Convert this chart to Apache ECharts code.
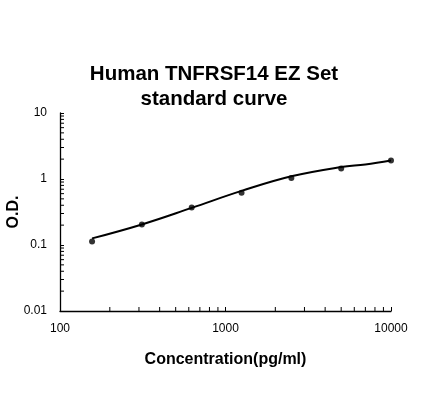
<!DOCTYPE html>
<html>
<head>
<meta charset="utf-8" />
<title>Human TNFRSF14 EZ Set standard curve</title>
<script src="https://cdn.jsdelivr.net/npm/echarts@6/dist/echarts.min.js"></script>
<style>
  html, body { margin: 0; padding: 0; background: #fff; }
  #chart { width: 421px; height: 419px; }
</style>
</head>
<body>
<div id="chart"></div>
<script>
// standard points
var conc = [156.25, 312.5, 625, 1250, 2500, 5000, 10000];
var od = [0.113, 0.204, 0.37, 0.62, 1.04, 1.44, 1.9];

// fitted curve
var fitConc = [156.25, 312.5, 625, 1250, 2500, 5000, 7000, 10000];
var fitOd = [0.126, 0.205, 0.365, 0.66, 1.1, 1.52, 1.66, 1.9];

// minor tick values (log axes)
var xMinor = [200, 300, 400, 500, 600, 700, 800, 900,
  2000, 3000, 4000, 5000, 6000, 7000, 8000, 9000];
var yMinor = [0.02, 0.03, 0.04, 0.05, 0.06, 0.07, 0.08, 0.09,
  0.2, 0.3, 0.4, 0.5, 0.6, 0.7, 0.8, 0.9,
  2, 3, 4, 5, 6, 7, 8, 9];

var xMin = 100, xMax = 10000, yMin = 0.01, yMax = 10;

var chart = echarts.init(document.getElementById('chart'));

function pairs(xs, ys) {
  return xs.map(function (x, i) { return [x, ys[i]]; });
}

function plain(v) {
  return String(+(+v).toPrecision(3));
}

var tickLen = 4;
var minorTicks = xMinor.map(function (v) { return [v, yMin, 'x']; })
  .concat(yMinor.map(function (v) { return [xMin, v, 'y']; }));

chart.setOption({
  animation: false,
  textStyle: { fontFamily: 'Liberation Sans, Arial, sans-serif' },
  title: {
    text: 'Human TNFRSF14 EZ Set\nstandard curve',
    left: 209,
    top: 57,
    textAlign: 'center',
    textStyle: {
      fontSize: 20.5,
      fontWeight: 'bold',
      color: '#000',
      lineHeight: 25,
      fontFamily: 'Liberation Sans, Arial, sans-serif'
    }
  },
  grid: {
    left: 60, right: 30, top: 113, bottom: 108,
    containLabel: false,
    outerBoundsMode: 'none'
  },
  xAxis: {
    type: 'log',
    logBase: 10,
    min: xMin,
    max: xMax,
    name: 'Concentration(pg/ml)',
    nameLocation: 'middle',
    nameGap: 41,
    nameMoveOverlap: false,
    nameTextStyle: { fontSize: 16, fontWeight: 'bold', color: '#000' },
    axisLine: { lineStyle: { color: '#000', width: 1.3 } },
    axisTick: { inside: true, length: tickLen, lineStyle: { color: '#000' } },
    axisLabel: { color: '#000', fontSize: 12, margin: 12, formatter: plain },
    splitLine: { show: false },
    minorTick: { show: false }
  },
  yAxis: {
    type: 'log',
    logBase: 10,
    min: yMin,
    max: yMax,
    name: 'O.D.',
    nameLocation: 'middle',
    nameGap: 38,
    nameMoveOverlap: false,
    nameRotate: 90,
    nameTextStyle: { fontSize: 16, fontWeight: 'bold', color: '#000' },
    axisLine: { show: true, lineStyle: { color: '#000', width: 1.3 } },
    axisTick: { show: true, inside: true, length: tickLen, lineStyle: { color: '#000' } },
    axisLabel: { color: '#000', fontSize: 12, margin: 13, formatter: plain },
    splitLine: { show: false },
    minorTick: { show: false }
  },
  series: [
    {
      name: 'fit',
      type: 'line',
      data: pairs(fitConc, fitOd),
      smooth: 0.4,
      showSymbol: false,
      lineStyle: { color: '#000', width: 2 },
      z: 2
    },
    {
      name: 'standards',
      type: 'scatter',
      data: pairs(conc, od),
      symbol: 'circle',
      symbolSize: 6,
      itemStyle: { color: '#000' },
      z: 3
    },
    {
      // log-spaced minor ticks, placed through the axes' own scales
      name: 'minorTicks',
      type: 'custom',
      data: minorTicks,
      silent: true,
      clip: false,
      renderItem: function (params, api) {
        var d = minorTicks[params.dataIndex];
        var p = api.coord([d[0], d[1]]);
        var end = d[2] === 'x' ? [p[0], p[1] - tickLen] : [p[0] + tickLen, p[1]];
        return {
          type: 'line',
          shape: { x1: p[0], y1: p[1], x2: end[0], y2: end[1] },
          style: { stroke: '#000', lineWidth: 1 }
        };
      },
      z: 1
    }
  ]
});

window.onresize = function () {
  chart.resize();
};
</script>
</body>
</html>
